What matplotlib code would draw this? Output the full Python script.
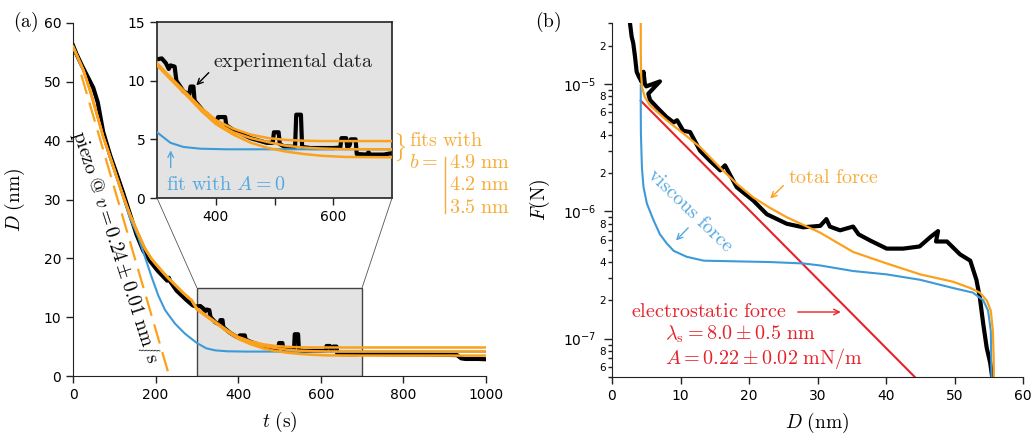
import numpy as np
import matplotlib
matplotlib.use('Agg')
import matplotlib.pyplot as plt
from matplotlib.patches import Rectangle, ConnectionPatch
from matplotlib.lines import Line2D
from matplotlib.ticker import LogLocator, LogFormatterMathtext, FuncFormatter

# ---------------- panel (a): D(t) ----------------
t_exp = [0, 8, 20, 33, 49, 60, 73, 90, 106, 122, 138, 154, 170, 187, 205, 228, 232, 236,
         251, 275, 290, 299, 308, 315, 320, 323, 330, 333, 345, 355, 357, 362, 364, 379,
         395, 402, 404, 416, 418, 430, 459, 487, 497, 499, 507, 509, 516, 535, 537, 545,
         547, 561, 601, 612, 614, 622, 624, 628, 630, 638, 640, 657, 660, 663, 686, 697,
         720, 780, 850, 900, 930, 940, 950, 980, 1000]
D_exp = [56.2, 54.8, 53.0, 51.2, 49.0, 46.5, 41.5, 37.5, 34.3, 31.0, 27.5, 24.0, 21.3, 19.5,
         17.9, 16.2, 16.7, 16.0, 14.5, 12.9, 12.0, 11.8, 11.9, 11.5, 11.0, 11.3, 11.2, 10.0,
         9.1, 8.8, 9.5, 9.5, 8.3, 7.4, 6.7, 6.6, 6.9, 6.9, 6.2, 5.8, 5.1, 4.7, 4.7, 5.6,
         5.6, 4.6, 4.4, 4.35, 7.1, 7.1, 4.35, 4.26, 4.26, 4.3, 5.1, 5.1, 4.3, 4.5, 5.0, 5.0,
         3.75, 3.7, 3.9, 3.7, 3.7, 3.8, 3.75, 3.7, 3.65, 3.6, 3.55, 3.0, 2.9, 2.9, 2.85]

t_fit = [0, 25, 41, 57, 73, 90, 106, 122, 138, 158, 174, 190, 207, 227, 247, 267, 287,
         300, 325, 350, 375, 400, 430, 460, 490, 520, 550, 580, 620, 700, 1000]
D_common = [56.0, 52.0, 48.6, 44.7, 40.7, 37.2, 33.8, 30.5, 27.4, 24.2, 21.7, 19.9,
            18.5, 16.9, 15.5, 14.1, 12.9]
D_fit_49 = D_common + [11.5, 10.2, 8.95, 7.7, 6.65, 5.9, 5.4, 5.1, 4.95, 4.88, 4.85, 4.85, 4.85, 4.85]
D_fit_42 = D_common + [11.4, 10.1, 8.85, 7.6, 6.45, 5.6, 5.1, 4.75, 4.45, 4.3, 4.22, 4.16, 4.15, 4.15]
D_fit_35 = D_common + [11.3, 10.0, 8.75, 7.45, 6.3, 5.4, 4.7, 4.25, 3.95, 3.75, 3.6, 3.5, 3.47, 3.47]

t_A0 = [0, 25, 41, 57, 73, 90, 106, 122, 138, 158, 174, 190, 207, 223, 247, 271, 300,
        323, 345, 374, 420, 500, 700, 1000]
D_A0 = [56.0, 52.0, 48.6, 44.7, 40.7, 37.0, 33.6, 30.2, 26.8, 23.6, 20.3, 16.9, 13.6,
        11.2, 8.9, 7.2, 5.6, 4.7, 4.35, 4.2, 4.15, 4.15, 4.15, 4.15]

t_piezo = [20, 233]
D_piezo = [51.2, 0.0]

# ---------------- panel (b): F(D) ----------------
D_b_exp = [2.63, 2.87, 3.1, 3.36, 3.6, 3.9, 4.33, 4.6, 4.8, 5.0, 7.0, 5.3, 5.55, 6.76, 7.98,
           9.0, 9.5, 10.4, 11.4, 12.85, 14.3, 15.8, 16.5, 18.2, 20.6, 22.6, 25.5, 27.9,
           30.4, 31.3, 31.8, 33.3, 35.2, 36.0, 37.7, 40.1, 42.5, 44.9, 46.5, 47.6, 47.3,
           48.9, 50.8, 52.3, 53.2, 53.7, 54.2, 54.7, 55.2, 55.5]
F_b_exp = [3.0e-5, 2.36e-5, 2.1e-5, 1.64e-5, 1.25e-5, 1.15e-5, 1.04e-5, 1.25e-5, 1.0e-5,
           9.6e-6, 1.05e-5, 8.4e-6, 7.5e-6, 6.4e-6, 5.5e-6, 5.0e-6, 5.2e-6, 4.3e-6, 4.2e-6,
           3.0e-6, 2.5e-6, 2.1e-6, 2.3e-6, 1.55e-6, 1.22e-6, 9.5e-7, 8.0e-7, 7.5e-7, 7.7e-7,
           8.7e-7, 7.6e-7, 7.1e-7, 7.6e-7, 6.6e-7, 5.9e-7, 5.1e-7, 5.1e-7, 5.3e-7, 6.3e-7,
           7.0e-7, 5.8e-7, 5.8e-7, 4.6e-7, 4.1e-7, 2.9e-7, 2.1e-7, 1.3e-7, 8.5e-8, 6.5e-8,
           5.0e-8]

D_b_total = [4.2, 4.2, 4.22, 4.27, 4.4, 4.8, 5.55, 7.98, 10.4, 12.85, 15.8, 18.2, 20.6, 23.0,
             25.5, 28.0, 30.4, 35.2, 40.1, 45.0, 49.8, 52.3, 53.7, 54.7, 55.3, 55.6, 55.72, 55.75]
F_b_total = [3.0e-5, 2.0e-5, 1.4e-5, 1.15e-5, 9.3e-6, 7.9e-6, 6.8e-6, 5.2e-6, 4.1e-6, 3.2e-6,
             2.2e-6, 1.65e-6, 1.29e-6, 1.07e-6, 9.0e-7, 7.8e-7, 6.8e-7, 4.8e-7, 3.9e-7,
             3.2e-7, 2.8e-7, 2.5e-7, 2.3e-7, 2.0e-7, 1.66e-7, 1.15e-7, 7e-8, 5e-8]

D_b_visc = [4.2, 4.2, 4.22, 4.37, 4.6, 5.1, 6.07, 7.0, 8.0, 9.0, 10.9, 13.4, 18.2, 23.1,
            27.9, 30.4, 35.2, 40.1, 45.0, 49.8, 52.7, 54.2, 54.9, 55.3, 55.4]
F_b_visc = [9.8e-6, 6e-6, 4.1e-6, 2.2e-6, 1.55e-6, 1.15e-6, 8.5e-7, 6.6e-7, 5.6e-7, 4.9e-7,
            4.4e-7, 4.1e-7, 4.05e-7, 4.0e-7, 3.9e-7, 3.76e-7, 3.4e-7, 3.2e-7, 2.9e-7,
            2.5e-7, 2.3e-7, 2.0e-7, 1.66e-7, 1.15e-7, 5e-8]

D_b_elec = [4.2, 44.2]
F_b_elec = [7.4e-6, 5.0e-8]

ORANGE = '#fba11c'
ORANGE_TXT = '#f6ad3a'
BLUE = '#3d9ad8'
BLUE_TXT = '#55a8e0'
RED = '#e5232b'
GREY = '#e3e3e3'

W, H = 1035, 434
fig = plt.figure(figsize=(W / 100, H / 100), dpi=100)


def box(l, t, r, b):
    return [l / W, 1 - b / H, (r - l) / W, (b - t) / H]


def ftext(x, y, s, **kw):
    kw.setdefault('math_fontfamily', 'cm')
    kw.setdefault('fontsize', 14.5)
    kw.setdefault('va', 'center')
    return fig.text(x / W, 1 - y / H, s, **kw)


def style_axes(a, labelsize=10):
    for side in ('top', 'right'):
        a.spines[side].set_visible(False)
    for side in ('left', 'bottom'):
        a.spines[side].set_color('#222222')
    a.tick_params(which='major', direction='out', length=5, width=1,
                  labelsize=labelsize, color='#222222')


# ---------- panel (a) ----------
ax = fig.add_axes(box(73, 23, 486, 376))
style_axes(ax)
ax.add_patch(Rectangle((300, 0), 400, 15, facecolor=GREY, edgecolor='#444444',
                       lw=1, zorder=0.5))
ax.plot(t_exp, D_exp, color='black', lw=3, zorder=2)
ax.plot(t_A0, D_A0, color=BLUE, lw=1.5, zorder=3)
for D_fit in (D_fit_49, D_fit_42, D_fit_35):
    ax.plot(t_fit, D_fit, color=ORANGE, lw=1.8, zorder=4)
ax.plot(t_piezo, D_piezo, color=ORANGE, lw=1.6, dashes=(9, 4), zorder=3)
ax.set_xlim(0, 1000)
ax.set_ylim(0, 60)
ax.set_xticks(range(0, 1001, 200))
ax.set_yticks(range(0, 61, 10))
ax.set_xlabel(r'$t\ \mathrm{(s)}$', fontsize=14, math_fontfamily='cm')
ax.set_ylabel(r'$D\ \mathrm{(nm)}$', fontsize=14, math_fontfamily='cm')
ax.xaxis.set_label_coords(0.5, -0.097)
ax.yaxis.set_label_coords(-0.112, 0.5)

ftext(116, 247, r'$\mathrm{piezo}\ @\ v = 0.24 \pm 0.01\ \mathrm{nm/s}$',
      rotation=-72, ha='center', rotation_mode='anchor', fontsize=14)
ftext(13, 22, r'$\mathrm{(a)}$', fontsize=14)

# inset
axin = fig.add_axes(box(157, 22, 392, 198))
axin.set_facecolor(GREY)
axin.plot(t_exp, D_exp, color='black', lw=3, zorder=2)
axin.plot(t_A0, D_A0, color=BLUE, lw=1.5, zorder=3)
for D_fit in (D_fit_49, D_fit_42, D_fit_35):
    axin.plot(t_fit, D_fit, color=ORANGE, lw=1.8, zorder=4)
axin.set_xlim(300, 700)
axin.set_ylim(0, 15)
axin.set_xticks([400, 500, 600])
axin.set_xticklabels(['400', '', '600'])
axin.set_yticks([0, 5, 10, 15])
for s in axin.spines.values():
    s.set_color('#222222')
    s.set_linewidth(1.2)
axin.tick_params(direction='out', length=5, width=1, labelsize=10, color='#222222')

axin.text(396, 11.6, r'$\mathrm{experimental\ data}$', fontsize=14.5,
          math_fontfamily='cm', va='center', color='#222222')
axin.annotate('', xy=(363.5, 9.43), xytext=(391.4, 10.85),
              arrowprops=dict(arrowstyle='->', color='black', lw=1))
axin.text(316, 1.17, r'$\mathrm{fit\ with}\ A = 0$', fontsize=14.5,
          math_fontfamily='cm', va='center', color=BLUE_TXT)
axin.annotate('', xy=(323.3, 4.3), xytext=(323.3, 2.35),
              arrowprops=dict(arrowstyle='->', color=BLUE_TXT, lw=1))

for xa, xb in ((300, 0), (700, 1)):
    con = ConnectionPatch(xyA=(xa, 15), coordsA=ax.transData,
                          xyB=(xb, 0), coordsB=axin.transAxes,
                          color='#555555', lw=0.6)
    fig.add_artist(con)

ftext(393, 147, r'$\}$', color=ORANGE_TXT, fontsize=17)
ftext(409, 140, r'$\mathrm{fits\ with}$', color=ORANGE_TXT)
ftext(409, 162, r'$b =$', color=ORANGE_TXT)
fig.add_artist(Line2D([445 / W, 445 / W], [1 - 157 / H, 1 - 213 / H],
                      color=ORANGE_TXT, lw=1))
for yy, lab in ((162, '4.9'), (185, '4.2'), (208, '3.5')):
    ftext(449, yy, r'$%s\ \mathrm{nm}$' % lab, color=ORANGE_TXT)

# ---------- panel (b) ----------
axb = fig.add_axes(box(612, 23, 1023, 377))
style_axes(axb)
axb.set_yscale('log')
axb.plot(D_b_exp, F_b_exp, color='black', lw=3, zorder=2)
axb.plot(D_b_elec, F_b_elec, color=RED, lw=1.5, zorder=3)
axb.plot(D_b_visc, F_b_visc, color=BLUE, lw=1.5, zorder=3)
axb.plot(D_b_total, F_b_total, color=ORANGE, lw=1.6, zorder=4)
axb.set_xlim(0, 60)
axb.set_ylim(5e-8, 3.02e-5)
axb.set_xticks(range(0, 61, 10))
axb.yaxis.set_major_locator(LogLocator(base=10, numticks=10))
axb.yaxis.set_major_formatter(LogFormatterMathtext())
axb.yaxis.set_minor_locator(LogLocator(base=10, subs=np.arange(2, 10), numticks=10))


def minor_fmt(v, pos):
    m = int(round(v / 10 ** np.floor(np.log10(v))))
    return str(m) if m in (2, 4, 6, 8) else ''


axb.yaxis.set_minor_formatter(FuncFormatter(minor_fmt))
axb.tick_params(axis='y', which='major', length=6, pad=5)
axb.tick_params(axis='y', which='minor', direction='out', length=3, width=1, pad=1.5,
                labelsize=7.5, color='#222222')
axb.set_xlabel(r'$D\ \mathrm{(nm)}$', fontsize=14, math_fontfamily='cm')
axb.set_ylabel(r'$F\mathrm{(N)}$', fontsize=14, math_fontfamily='cm')
axb.xaxis.set_label_coords(0.5, -0.097)
axb.yaxis.set_label_coords(-0.145, 0.5)

axb.text(25.7, 1.86e-6, r'$\mathrm{total\ force}$', fontsize=14.5,
         math_fontfamily='cm', va='center', color=ORANGE_TXT)
axb.annotate('', xy=(22.8, 1.22e-6), xytext=(25.3, 1.65e-6),
             arrowprops=dict(arrowstyle='->', color=ORANGE, lw=1))
axb.text(11.5, 1.02e-6, r'$\mathrm{viscous\ force}$', fontsize=14.5,
         math_fontfamily='cm', va='center', ha='center', rotation=-44,
         rotation_mode='anchor', color=BLUE_TXT)
axb.annotate('', xy=(9.05, 5.7e-7), xytext=(11.4, 7.7e-7),
             arrowprops=dict(arrowstyle='->', color=BLUE_TXT, lw=1))
axb.text(2.77, 1.64e-7, r'$\mathrm{electrostatic\ force}$', fontsize=14.5,
         math_fontfamily='cm', va='center', color=RED)
axb.annotate('', xy=(33.8, 1.62e-7), xytext=(26.7, 1.62e-7),
             arrowprops=dict(arrowstyle='->', color=RED, lw=1))
axb.text(7.74, 1.09e-7, r'$\lambda_\mathrm{s} = 8.0 \pm 0.5\ \mathrm{nm}$', fontsize=14.5,
         math_fontfamily='cm', va='center', color=RED)
axb.text(7.74, 7.05e-8, r'$A = 0.22 \pm 0.02\ \mathrm{mN/m}$', fontsize=14.5,
         math_fontfamily='cm', va='center', color=RED)
ftext(535, 22, r'$\mathrm{(b)}$', fontsize=14)

fig.savefig('out.png', dpi=100)
